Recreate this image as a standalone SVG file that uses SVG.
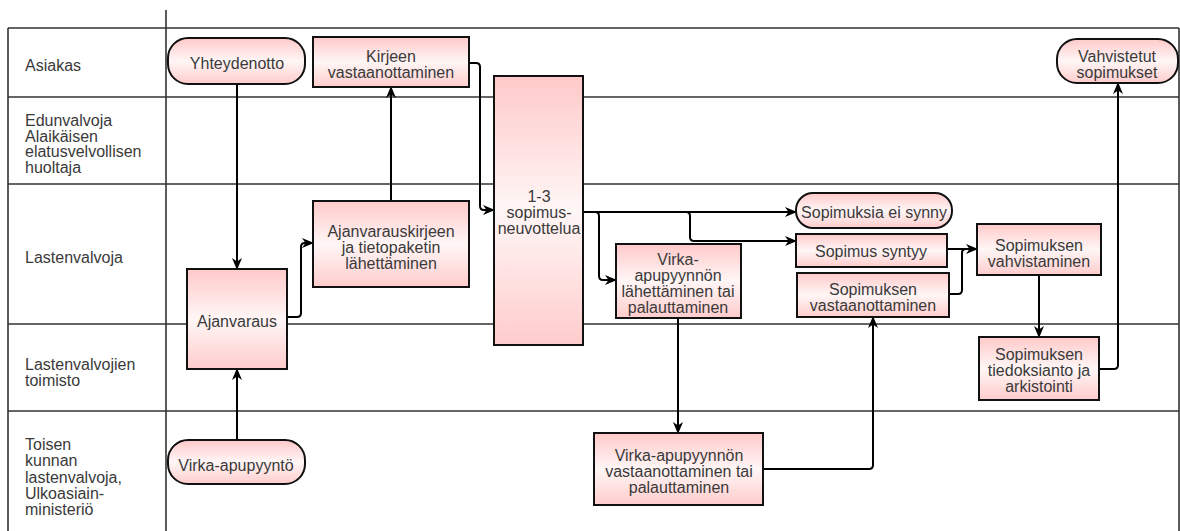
<svg xmlns="http://www.w3.org/2000/svg" width="1180" height="531" viewBox="0 0 1180 531">
<defs>
<linearGradient id="g" x1="0" y1="0" x2="0" y2="1">
<stop offset="0" stop-color="#ffc9c9"/>
<stop offset="0.5" stop-color="#fff6f6"/>
<stop offset="1" stop-color="#ffcccc"/>
</linearGradient>
<marker id="a" markerUnits="userSpaceOnUse" markerWidth="12" markerHeight="12" viewBox="0 0 12 12" refX="11" refY="6" orient="auto">
<path d="M0,1 L12,6 L0,11 L3.5,6 z" fill="#000"/>
</marker>
<style>
.lane{stroke:#333;stroke-width:1.6;fill:none}
.lbl{font-family:"Liberation Sans",Arial,sans-serif;font-size:16px;fill:#3a3a3a}
.box{fill:url(#g);stroke:#111;stroke-width:2}
.t{font-family:"Liberation Sans",Arial,sans-serif;font-size:16px;fill:#3a3a3a;text-anchor:middle}
.c{fill:none;stroke:#000;stroke-width:2}
.ar{marker-end:url(#a)}
</style>
</defs>
<rect width="1180" height="531" fill="#fff"/>
<g id="lanes">
<path class="lane" d="M8,28 H1179 M8,97 H1179 M8,184 H1179 M8,324 H1179 M8,411 H1179 M8,28 V531 M166,10 V531 M1179,28 V531"/>
<text class="lbl" x="25" y="71">Asiakas</text>
<text class="lbl" x="25" y="126">Edunvalvoja<tspan x="25" dy="15.7">Alaikäisen</tspan><tspan x="25" dy="15.7">elatusvelvollisen</tspan><tspan x="25" dy="15.7">huoltaja</tspan></text>
<text class="lbl" x="25" y="263">Lastenvalvoja</text>
<text class="lbl" x="25" y="370">Lastenvalvojien<tspan x="25" dy="16">toimisto</tspan></text>
<text class="lbl" x="25" y="450">Toisen<tspan x="25" dy="16.3">kunnan</tspan><tspan x="25" dy="16.3">lastenvalvoja,</tspan><tspan x="25" dy="16.3">Ulkoasiain-</tspan><tspan x="25" dy="16.3">ministeriö</tspan></text>
</g>
<g id="connectors">
<path class="c ar" d="M237,84 V269"/>
<path class="c ar" d="M237,440 V369"/>
<path class="c ar" d="M287,317 H297 Q301,317 301,313 V247 Q301,243 305,243 H313"/>
<path class="c ar" d="M391,201 V87"/>
<path class="c ar" d="M469,63 H476 Q480,63 480,67 V206 Q480,210 484,210 H494"/>
<path class="c ar" d="M583,212 H796"/>
<path class="c ar" d="M595,212 Q599,212 599,216 V276 Q599,280 603,280 H616"/>
<path class="c ar" d="M686,212 Q690,212 690,216 V237 Q690,241 694,241 H796"/>
<path class="c ar" d="M678,318 V433"/>
<path class="c ar" d="M763,469 H869 Q873,469 873,465 V317"/>
<path class="c ar" d="M947,249 H977"/>
<path class="c" d="M949,294 H958 Q962,294 962,290 V253 Q962,249 966,249"/>
<path class="c ar" d="M1039,275 V337"/>
<path class="c ar" d="M1099,369 H1114 Q1118,369 1118,365 V83"/>
</g>
<g id="n-yhteydenotto"><rect class="box" x="168" y="38" width="137" height="46" rx="20"/><text class="t" x="237" y="69">Yhteydenotto</text></g>
<g id="n-kirjeen"><rect class="box" x="313" y="37" width="156" height="50"/><text class="t" x="391" y="62">Kirjeen<tspan x="391" dy="16">vastaanottaminen</tspan></text></g>
<g id="n-neuvottelu"><rect class="box" x="494" y="76" width="89" height="269"/><text class="t" x="539" y="202">1-3<tspan x="539" dy="16">sopimus-</tspan><tspan x="539" dy="16">neuvottelua</tspan></text></g>
<g id="n-vahvistetut"><rect class="box" x="1057" y="39" width="121" height="44" rx="20"/><text class="t" x="1117" y="62">Vahvistetut<tspan x="1117" dy="16">sopimukset</tspan></text></g>
<g id="n-ajanvaraus"><rect class="box" x="187" y="269" width="100" height="100"/><text class="t" x="237" y="327">Ajanvaraus</text></g>
<g id="n-ajanvarauskirje"><rect class="box" x="313" y="201" width="156" height="86"/><text class="t" x="391" y="237">Ajanvarauskirjeen<tspan x="391" dy="16">ja tietopaketin</tspan><tspan x="391" dy="16">lähettäminen</tspan></text></g>
<g id="n-virka-lah"><rect class="box" x="616" y="244" width="125" height="74"/><text class="t" x="678" y="265">Virka-<tspan x="678" dy="16">apupyynnön</tspan><tspan x="678" dy="16">lähettäminen tai</tspan><tspan x="678" dy="16">palauttaminen</tspan></text></g>
<g id="n-ei-synny"><rect class="box" x="796" y="193" width="156" height="35" rx="17"/><text class="t" x="874" y="218">Sopimuksia ei synny</text></g>
<g id="n-syntyy"><rect class="box" x="796" y="234" width="151" height="33"/><text class="t" x="871" y="257">Sopimus syntyy</text></g>
<g id="n-sop-vast"><rect class="box" x="797" y="273" width="152" height="44"/><text class="t" x="873" y="295">Sopimuksen<tspan x="873" dy="16">vastaanottaminen</tspan></text></g>
<g id="n-vahvistaminen"><rect class="box" x="977" y="224" width="124" height="51"/><text class="t" x="1039" y="251">Sopimuksen<tspan x="1039" dy="16">vahvistaminen</tspan></text></g>
<g id="n-tiedoksianto"><rect class="box" x="979" y="337" width="120" height="63"/><text class="t" x="1039" y="360">Sopimuksen<tspan x="1039" dy="16">tiedoksianto ja</tspan><tspan x="1039" dy="16">arkistointi</tspan></text></g>
<g id="n-virka-vast"><rect class="box" x="594" y="433" width="169" height="72"/><text class="t" x="679" y="461">Virka-apupyynnön<tspan x="679" dy="16">vastaanottaminen tai</tspan><tspan x="679" dy="16">palauttaminen</tspan></text></g>
<g id="n-virka-apupyynto"><rect class="box" x="168" y="440" width="137" height="44" rx="20"/><text class="t" x="236" y="471">Virka-apupyyntö</text></g>
</svg>
